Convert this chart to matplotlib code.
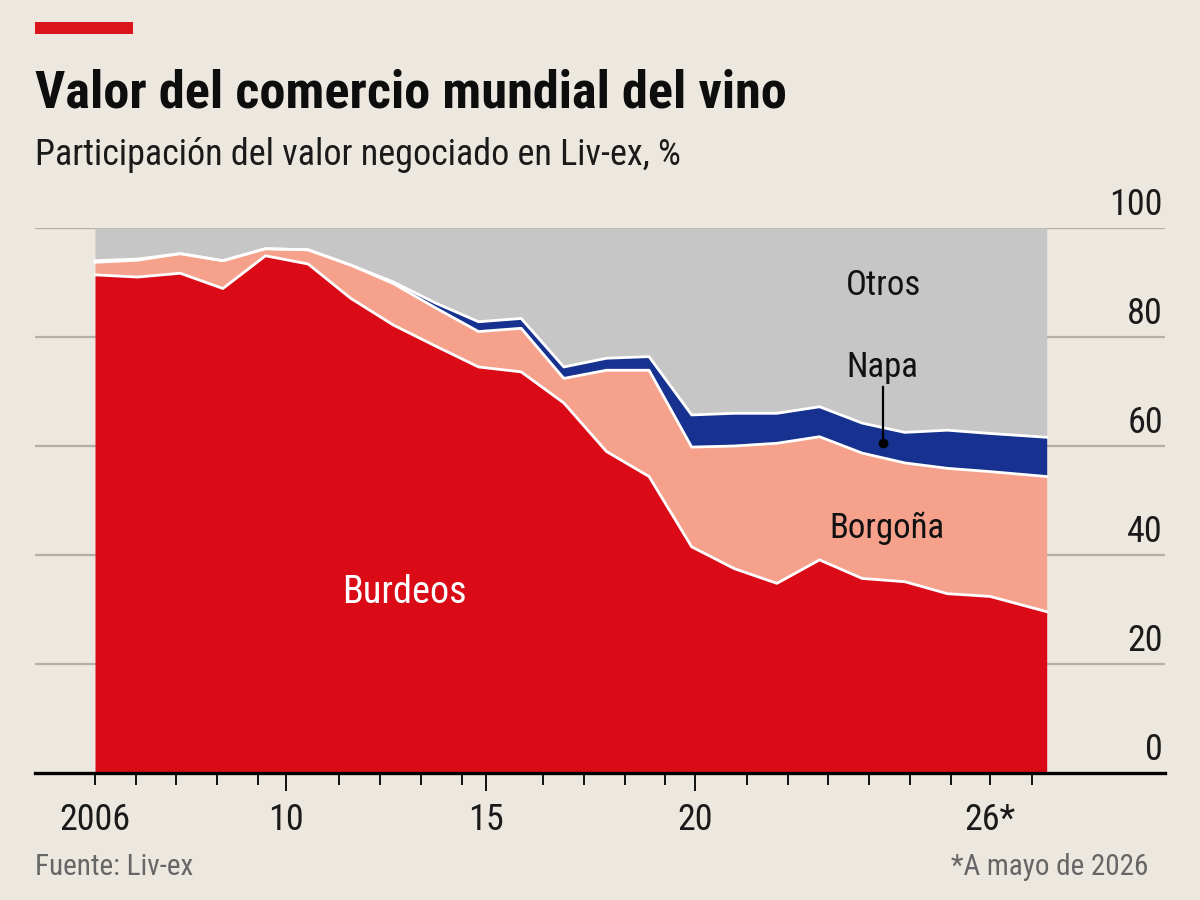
import numpy as np
import matplotlib
matplotlib.use('Agg')
import matplotlib.pyplot as plt
from matplotlib import font_manager as fm
from matplotlib.patches import Rectangle

# ---------------- data (shares of traded value, %) ----------------
periodo = np.array([0, 1, 2, 3, 4, 5, 6, 7, 8, 9, 10, 11, 12, 13, 14, 15, 16,
                    17, 18, 19, 20, 21, 22.33])
burdeos = np.array([91.4, 91.0, 91.7, 88.9, 94.9, 93.4, 87.1, 82.2, 78.3, 74.5,
                    73.6, 67.9, 59.0, 54.4, 41.5, 37.5, 34.8, 39.1, 35.7, 35.1,
                    32.9, 32.4, 29.6])
borgona = np.array([2.3, 3.1, 3.6, 5.1, 1.3, 2.6, 6.1, 7.6, 7.0, 6.5,
                    8.0, 4.5, 14.9, 19.5, 18.3, 22.5, 25.7, 22.6, 23.0, 21.8,
                    23.0, 22.9, 24.8])
napa = np.array([0.3, 0.2, 0.0, 0.0, 0.0, 0.0, 0.0, 0.3, 0.9, 1.8,
                 1.8, 2.1, 2.2, 2.5, 5.9, 6.0, 5.5, 5.5, 5.5, 5.6,
                 7.0, 7.0, 7.2])
otros = np.array([6.0, 5.7, 4.7, 6.0, 3.8, 4.0, 6.8, 9.9, 13.8, 17.2,
                  16.6, 25.5, 23.9, 23.6, 34.3, 34.0, 34.0, 32.8, 35.8, 37.5,
                  37.1, 37.7, 38.4])

x_tick_labels = ['2006', '10', '15', '20', '26*']
x_tick_pos = [0, 4.48, 9.17, 14.08, 21.0]
y_ticks = [0, 20, 40, 60, 80, 100]

# ---------------- style ----------------
BG = '#ECE8DF'
RED = '#DA0B17'
SALMON = '#F6A18B'
NAVY = '#16318F'
GREY = '#C7C6C6'
GRID = '#B3AEA6'
BAR = '#DB141B'

names = {f.name for f in fm.fontManager.ttflist}
FONT = 'Roboto'
for cand in ('Roboto Condensed', 'Fira Sans Condensed', 'PT Sans Narrow', 'IBM Plex Sans Condensed'):
    if cand in names:
        FONT = cand
        break
plt.rcParams['font.family'] = [FONT, 'DejaVu Sans']

fig = plt.figure(figsize=(12, 9), dpi=100, facecolor=BG)
ax = fig.add_axes([35 / 1200, 127 / 900, 1130 / 1200, 545 / 900])
ax.set_facecolor('none')

unit = 42.62  # px per period
ax.set_xlim(-60 / unit, 1070 / unit)
ax.set_ylim(0, 100)

for s in ax.spines.values():
    s.set_visible(False)

# grid
for v in y_ticks[1:]:
    ax.axhline(v, color=GRID, lw=1.6, zorder=1)

b1 = burdeos
b2 = b1 + borgona
b3 = b2 + napa
b4 = b3 + otros
ax.fill_between(periodo, 0, b1, color=RED, lw=0, zorder=2)
ax.fill_between(periodo, b1, b2, color=SALMON, lw=0, zorder=2)
ax.fill_between(periodo, b2, b3, color=NAVY, lw=0, zorder=2)
ax.fill_between(periodo, b3, b4, color=GREY, lw=0, zorder=2)
for b in (b1, b2, b3):
    ax.plot(periodo, b, color='white', lw=2.0, zorder=3, solid_joinstyle='round')

# baseline
ax.axhline(0, color='black', lw=2.4, zorder=5, clip_on=False)

# y labels on the right, above gridlines
for v in y_ticks:
    ax.annotate(str(v), xy=(1, v), xycoords=('axes fraction', 'data'),
                xytext=(-1.5, 9.2), textcoords='offset points',
                ha='right', va='baseline', fontsize=26, color='#1a1a1a')
ax.tick_params(axis='y', left=False, right=False, labelleft=False)

# x ticks
ax.set_xticks(x_tick_pos, x_tick_labels)
minor = np.arange(24) * (937 / 23 / unit)
minor = [m for m in minor if min(abs(m - p) for p in x_tick_pos) > 0.4]
ax.set_xticks(minor, minor=True)
ax.tick_params(axis='x', which='major', length=13, width=1.3, pad=8,
               labelsize=26, color='black', labelcolor='#1a1a1a')
ax.tick_params(axis='x', which='minor', length=8.6, width=1.3, color='black')
mt = ax.xaxis.get_major_ticks()
mt[0].tick1line.set_markersize(8.6)
mt[-1].tick1line.set_markersize(8.6)

# area labels
ax.text(7.26, 31.2, 'Burdeos', color='white', fontsize=27.5,
        ha='center', va='baseline', zorder=6)
ax.text(18.58, 43.1, 'Borgoña', color='#111111', fontsize=25, ha='center', va='baseline', zorder=6)
ax.text(18.51, 87.7, 'Otros', color='#111111', fontsize=25, ha='center', va='baseline', zorder=6)
ax.text(18.48, 72.66, 'Napa', color='#111111', fontsize=25, ha='center', va='baseline', zorder=6)
ax.plot([18.49, 18.49], [70.8, 60.6], color='black', lw=1.6, zorder=6)
ax.plot([18.49], [60.6], 'o', ms=6, color='black', zorder=6)

# header
fig.patches.append(Rectangle((35 / 1200, 1 - 34 / 900), 98 / 1200, 12 / 900,
                             transform=fig.transFigure, color=BAR, lw=0))
title = fig.text(35 / 1200, 1 - 108 / 900, 'Valor del comercio mundial del vino',
                 fontsize=41.5, fontweight='bold', ha='left', va='baseline', color='#0d0d0d')
sub = fig.text(35 / 1200, 1 - 165 / 900, 'Participación del valor negociado en Liv-ex, %',
               fontsize=23.5, ha='left', va='baseline', color='#1a1a1a')

# footer
fig.text(35 / 1200, 1 - 875 / 900, 'Fuente: Liv-ex', fontsize=21, color='#666666',
         ha='left', va='baseline')
fig.text(1148 / 1200, 1 - 875 / 900, '*A mayo de 2026', fontsize=21, color='#666666',
         ha='right', va='baseline')


def fit(txt, target_px, max_scale=1.15):
    fig.canvas.draw()
    r = fig.canvas.get_renderer()
    w = txt.get_window_extent(r).width
    s = min(target_px / w, max_scale)
    txt.set_fontsize(txt.get_fontsize() * s)


fit(title, 752)
fit(sub, 648)

fig.savefig('out.png', dpi=100, facecolor=BG)
